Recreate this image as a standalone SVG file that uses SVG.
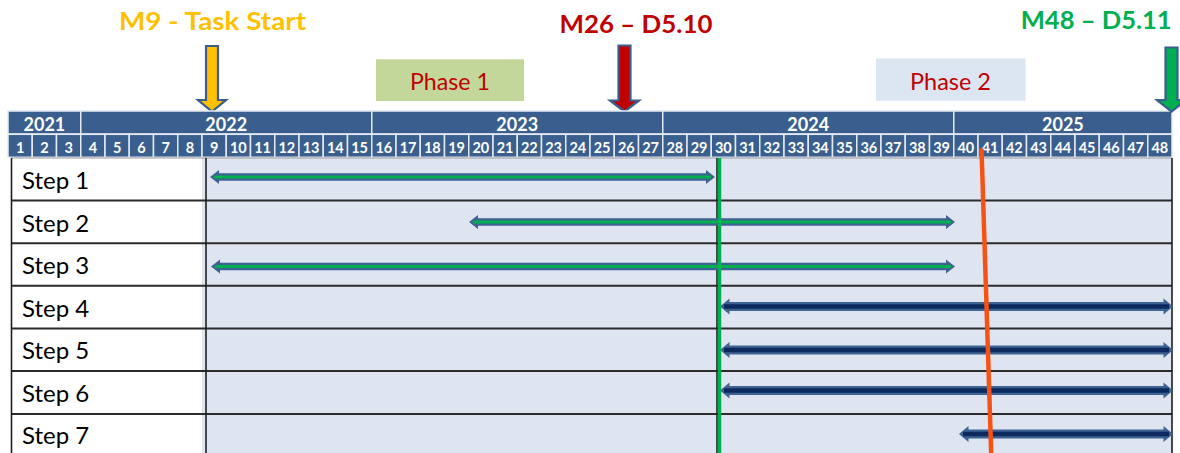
<svg xmlns="http://www.w3.org/2000/svg" width="1180" height="453" viewBox="0 0 1180 453">
  <style>
    .yr { fill: #3A5F8E; stroke: #E4EAF3; stroke-width: 1.5; }
    .mo { fill: #3A5F8E; stroke: #E4EAF3; stroke-width: 1.5; }
    .yt { font-family: Lato, "Open Sans", sans-serif; font-weight: bold; font-size: 18px; fill: #FFFFFF; text-anchor: middle; }
    .mt { font-family: Lato, "Open Sans", sans-serif; font-weight: bold; font-size: 14.5px; fill: #FFFFFF; text-anchor: middle; }
    .title { font-family: Lato, "Open Sans", sans-serif; font-weight: bold; font-size: 25px; }
    .phase { font-family: Lato, "Open Sans", sans-serif; font-size: 23.5px; fill: #C00000; }
    .step { font-family: Lato, "Open Sans", sans-serif; font-size: 24px; fill: #000000; }
    .rowline { stroke: #2B2B2B; stroke-width: 2; }
    .vline { stroke: #1E1E1E; stroke-width: 1.6; }
    .drop { stroke: #3A5F8E; stroke-width: 2.2; stroke-linejoin: miter; }
    .shaft-g { fill: #3E6292; }
    .core-g { stroke: #00B050; stroke-width: 3; }
    .shaft-n { fill: #3E6292; }
    .core-n { stroke: #0D2A5E; stroke-width: 4.5; }
  </style>

  <!-- milestone titles -->
  <g id="milestone-m9">
    <text class="title" x="119" y="30" fill="#FFC000" textLength="187" lengthAdjust="spacingAndGlyphs">M9 - Task Start</text>
    <polygon class="drop" fill="#FFC000" points="206,46 218,46 218,100 226,100 212,111.5 198,100 206,100"/>
  </g>
  <g id="milestone-m26">
    <text class="title" x="559.5" y="32.7" fill="#C00000" textLength="153" lengthAdjust="spacingAndGlyphs">M26 – D5.10</text>
    <polygon class="drop" fill="#C00000" points="618.5,45.5 630.5,45.5 630.5,100.5 639,100.5 624.5,111.5 610,100.5 618.5,100.5"/>
  </g>

  <!-- phase boxes -->
  <g id="phase-1">
    <rect x="376" y="59.3" width="148" height="41.7" fill="#C4D79B"/>
    <text class="phase" x="410" y="89.5" textLength="80" lengthAdjust="spacingAndGlyphs">Phase 1</text>
  </g>
  <g id="phase-2">
    <rect x="876" y="58.5" width="149.5" height="42.2" fill="#DCE6F2"/>
    <text class="phase" x="910" y="89.5" textLength="81" lengthAdjust="spacingAndGlyphs">Phase 2</text>
  </g>

  <!-- timeline header: years -->
  <g id="header-years">
    <rect class="yr" x="8" y="111" width="72.75" height="23"/>
    <rect class="yr" x="80.75" y="111" width="291" height="23"/>
    <rect class="yr" x="371.75" y="111" width="291" height="23"/>
    <rect class="yr" x="662.75" y="111" width="291" height="23"/>
    <rect class="yr" x="953.75" y="111" width="218.25" height="23"/>
    <text class="yt" x="44.4" y="130.9">2021</text>
    <text class="yt" x="226.25" y="130.9">2022</text>
    <text class="yt" x="517.25" y="130.9">2023</text>
    <text class="yt" x="808.25" y="130.9">2024</text>
    <text class="yt" x="1062.9" y="130.9">2025</text>
  </g>

  <!-- timeline header: months 1..48 -->
  <g id="header-months">
    <rect class="mo" x="8" y="134.3" width="24.25" height="23"/>
    <rect class="mo" x="32.25" y="134.3" width="24.25" height="23"/>
    <rect class="mo" x="56.5" y="134.3" width="24.25" height="23"/>
    <rect class="mo" x="80.75" y="134.3" width="24.25" height="23"/>
    <rect class="mo" x="105" y="134.3" width="24.25" height="23"/>
    <rect class="mo" x="129.25" y="134.3" width="24.25" height="23"/>
    <rect class="mo" x="153.5" y="134.3" width="24.25" height="23"/>
    <rect class="mo" x="177.75" y="134.3" width="24.25" height="23"/>
    <rect class="mo" x="202" y="134.3" width="24.25" height="23"/>
    <rect class="mo" x="226.25" y="134.3" width="24.25" height="23"/>
    <rect class="mo" x="250.5" y="134.3" width="24.25" height="23"/>
    <rect class="mo" x="274.75" y="134.3" width="24.25" height="23"/>
    <rect class="mo" x="299" y="134.3" width="24.25" height="23"/>
    <rect class="mo" x="323.25" y="134.3" width="24.25" height="23"/>
    <rect class="mo" x="347.5" y="134.3" width="24.25" height="23"/>
    <rect class="mo" x="371.75" y="134.3" width="24.25" height="23"/>
    <rect class="mo" x="396" y="134.3" width="24.25" height="23"/>
    <rect class="mo" x="420.25" y="134.3" width="24.25" height="23"/>
    <rect class="mo" x="444.5" y="134.3" width="24.25" height="23"/>
    <rect class="mo" x="468.75" y="134.3" width="24.25" height="23"/>
    <rect class="mo" x="493" y="134.3" width="24.25" height="23"/>
    <rect class="mo" x="517.25" y="134.3" width="24.25" height="23"/>
    <rect class="mo" x="541.5" y="134.3" width="24.25" height="23"/>
    <rect class="mo" x="565.75" y="134.3" width="24.25" height="23"/>
    <rect class="mo" x="590" y="134.3" width="24.25" height="23"/>
    <rect class="mo" x="614.25" y="134.3" width="24.25" height="23"/>
    <rect class="mo" x="638.5" y="134.3" width="24.25" height="23"/>
    <rect class="mo" x="662.75" y="134.3" width="24.25" height="23"/>
    <rect class="mo" x="687" y="134.3" width="24.25" height="23"/>
    <rect class="mo" x="711.25" y="134.3" width="24.25" height="23"/>
    <rect class="mo" x="735.5" y="134.3" width="24.25" height="23"/>
    <rect class="mo" x="759.75" y="134.3" width="24.25" height="23"/>
    <rect class="mo" x="784" y="134.3" width="24.25" height="23"/>
    <rect class="mo" x="808.25" y="134.3" width="24.25" height="23"/>
    <rect class="mo" x="832.5" y="134.3" width="24.25" height="23"/>
    <rect class="mo" x="856.75" y="134.3" width="24.25" height="23"/>
    <rect class="mo" x="881" y="134.3" width="24.25" height="23"/>
    <rect class="mo" x="905.25" y="134.3" width="24.25" height="23"/>
    <rect class="mo" x="929.5" y="134.3" width="24.25" height="23"/>
    <rect class="mo" x="953.75" y="134.3" width="24.25" height="23"/>
    <rect class="mo" x="978" y="134.3" width="24.25" height="23"/>
    <rect class="mo" x="1002.25" y="134.3" width="24.25" height="23"/>
    <rect class="mo" x="1026.5" y="134.3" width="24.25" height="23"/>
    <rect class="mo" x="1050.75" y="134.3" width="24.25" height="23"/>
    <rect class="mo" x="1075" y="134.3" width="24.25" height="23"/>
    <rect class="mo" x="1099.25" y="134.3" width="24.25" height="23"/>
    <rect class="mo" x="1123.5" y="134.3" width="24.25" height="23"/>
    <rect class="mo" x="1147.75" y="134.3" width="24.25" height="23"/>
    <text class="mt" x="20.125" y="152.8">1</text>
    <text class="mt" x="44.375" y="152.8">2</text>
    <text class="mt" x="68.625" y="152.8">3</text>
    <text class="mt" x="92.875" y="152.8">4</text>
    <text class="mt" x="117.125" y="152.8">5</text>
    <text class="mt" x="141.375" y="152.8">6</text>
    <text class="mt" x="165.625" y="152.8">7</text>
    <text class="mt" x="189.875" y="152.8">8</text>
    <text class="mt" x="214.125" y="152.8">9</text>
    <text class="mt" x="238.375" y="152.8">10</text>
    <text class="mt" x="262.625" y="152.8">11</text>
    <text class="mt" x="286.875" y="152.8">12</text>
    <text class="mt" x="311.125" y="152.8">13</text>
    <text class="mt" x="335.375" y="152.8">14</text>
    <text class="mt" x="359.625" y="152.8">15</text>
    <text class="mt" x="383.875" y="152.8">16</text>
    <text class="mt" x="408.125" y="152.8">17</text>
    <text class="mt" x="432.375" y="152.8">18</text>
    <text class="mt" x="456.625" y="152.8">19</text>
    <text class="mt" x="480.875" y="152.8">20</text>
    <text class="mt" x="505.125" y="152.8">21</text>
    <text class="mt" x="529.375" y="152.8">22</text>
    <text class="mt" x="553.625" y="152.8">23</text>
    <text class="mt" x="577.875" y="152.8">24</text>
    <text class="mt" x="602.125" y="152.8">25</text>
    <text class="mt" x="626.375" y="152.8">26</text>
    <text class="mt" x="650.625" y="152.8">27</text>
    <text class="mt" x="674.875" y="152.8">28</text>
    <text class="mt" x="699.125" y="152.8">29</text>
    <text class="mt" x="723.375" y="152.8">30</text>
    <text class="mt" x="747.625" y="152.8">31</text>
    <text class="mt" x="771.875" y="152.8">32</text>
    <text class="mt" x="796.125" y="152.8">33</text>
    <text class="mt" x="820.375" y="152.8">34</text>
    <text class="mt" x="844.625" y="152.8">35</text>
    <text class="mt" x="868.875" y="152.8">36</text>
    <text class="mt" x="893.125" y="152.8">37</text>
    <text class="mt" x="917.375" y="152.8">38</text>
    <text class="mt" x="941.625" y="152.8">39</text>
    <text class="mt" x="965.875" y="152.8">40</text>
    <text class="mt" x="990.125" y="152.8">41</text>
    <text class="mt" x="1014.375" y="152.8">42</text>
    <text class="mt" x="1038.625" y="152.8">43</text>
    <text class="mt" x="1062.875" y="152.8">44</text>
    <text class="mt" x="1087.125" y="152.8">45</text>
    <text class="mt" x="1111.375" y="152.8">46</text>
    <text class="mt" x="1135.625" y="152.8">47</text>
    <text class="mt" x="1159.875" y="152.8">48</text>
  </g>

  <!-- M48 marker sits over the end of the header -->
  <g id="milestone-m48">
    <text class="title" x="1020.7" y="29.4" fill="#00B050" textLength="151" lengthAdjust="spacingAndGlyphs">M48 – D5.11</text>
    <polygon class="drop" fill="#00B050" points="1165.5,47.5 1177.5,47.5 1177.5,100 1186,100 1171.5,111.5 1157,100 1165.5,100"/>
  </g>

  <!-- task grid -->
  <g id="grid">
    <rect x="11.5" y="158" width="194.5" height="300" fill="#FFFFFF"/>
    <rect x="202" y="158" width="970" height="300" fill="#DEE5F1"/>
    <line x1="11.5" y1="158" x2="1172" y2="158" stroke="#9A9A9A" stroke-width="1"/>
    <line class="rowline" x1="11.5" y1="200.5" x2="1172" y2="200.5"/>
    <line class="rowline" x1="11.5" y1="243.2" x2="1172" y2="243.2"/>
    <line class="rowline" x1="11.5" y1="285.8" x2="1172" y2="285.8"/>
    <line class="rowline" x1="11.5" y1="328.4" x2="1172" y2="328.4"/>
    <line class="rowline" x1="11.5" y1="371" x2="1172" y2="371"/>
    <line class="rowline" x1="11.5" y1="414" x2="1172" y2="414"/>
    <line class="vline" x1="11.5" y1="158" x2="11.5" y2="453"/>
    <line class="vline" x1="206" y1="158" x2="206" y2="453"/>
    <line class="vline" x1="717" y1="158" x2="717" y2="453"/>
    <line class="vline" x1="1172" y1="158" x2="1172" y2="453"/>
  </g>

  <g id="step-1"><text class="step" x="22" y="189">Step 1</text></g>
  <g id="step-2"><text class="step" x="22" y="231.5">Step 2</text></g>
  <g id="step-3"><text class="step" x="22" y="274.2">Step 3</text></g>
  <g id="step-4"><text class="step" x="22" y="316.8">Step 4</text></g>
  <g id="step-5"><text class="step" x="22" y="359.4">Step 5</text></g>
  <g id="step-6"><text class="step" x="22" y="401.5">Step 6</text></g>
  <g id="step-7"><text class="step" x="22" y="444">Step 7</text></g>

  <!-- connectors: duration bars and status lines -->
  <g id="connectors">
    <!-- Step 1: M9 to M30 -->
    <polygon class="shaft-g" points="210,177 219,170 219,173.2 706,173.2 706,170 715,177 706,184 706,180.8 219,180.8 219,184"/>
    <line class="core-g" x1="214" y1="177" x2="711" y2="177"/>
    <!-- Step 2: M20 to M40 -->
    <polygon class="shaft-g" points="469,222 478,215 478,218.2 946,218.2 946,215 955,222 946,229 946,225.8 478,225.8 478,229"/>
    <line class="core-g" x1="473" y1="222" x2="951" y2="222"/>
    <!-- Step 3: M9 to M40 -->
    <polygon class="shaft-g" points="211,266.5 220,259.5 220,262.7 946,262.7 946,259.5 955,266.5 946,273.5 946,270.3 220,270.3 220,273.5"/>
    <line class="core-g" x1="215" y1="266.5" x2="951" y2="266.5"/>
    <!-- Steps 4-6: M30 to M48 -->
    <polygon class="shaft-n" points="720,306.5 729.5,298.5 729.5,302 1163.5,302 1163.5,298.5 1173,306.5 1163.5,314.5 1163.5,311 729.5,311 729.5,314.5"/>
    <line class="core-n" x1="724" y1="306.5" x2="1169" y2="306.5"/>
    <polygon class="shaft-n" points="720,350 729.5,342 729.5,345.5 1163.5,345.5 1163.5,342 1173,350 1163.5,358 1163.5,354.5 729.5,354.5 729.5,358"/>
    <line class="core-n" x1="724" y1="350" x2="1169" y2="350"/>
    <polygon class="shaft-n" points="720,390.5 729.5,382.5 729.5,386 1163.5,386 1163.5,382.5 1173,390.5 1163.5,398.5 1163.5,395 729.5,395 729.5,398.5"/>
    <line class="core-n" x1="724" y1="390.5" x2="1169" y2="390.5"/>
    <!-- Step 7: M40 to M48 -->
    <polygon class="shaft-n" points="959,434 968.5,426 968.5,429.5 1163.5,429.5 1163.5,426 1173,434 1163.5,442 1163.5,438.5 968.5,438.5 968.5,442"/>
    <line class="core-n" x1="963" y1="434" x2="1169" y2="434"/>
    <!-- M30 boundary -->
    <line x1="719.5" y1="158" x2="719.5" y2="453" stroke="#00B050" stroke-width="3.5"/>
    <!-- current-date line -->
    <line x1="981.5" y1="148.5" x2="991.2" y2="453" stroke="#F75215" stroke-width="4.5"/>
  </g>
</svg>
